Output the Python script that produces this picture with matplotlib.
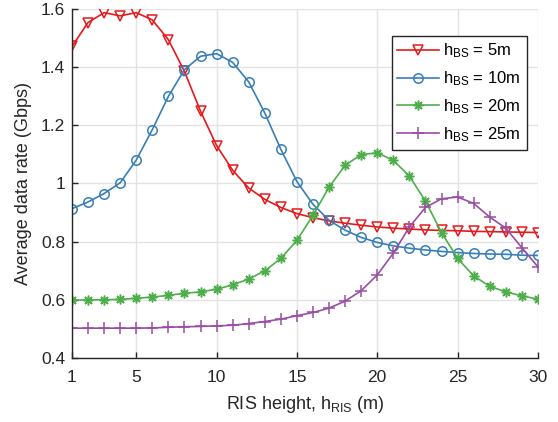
import numpy as np
import matplotlib
matplotlib.use("Agg")
import matplotlib.pyplot as plt

plt.rcParams['font.family'] = ['Liberation Sans', 'DejaVu Sans']
plt.rcParams['mathtext.fontset'] = 'custom'
plt.rcParams['mathtext.rm'] = 'Liberation Sans'
plt.rcParams['mathtext.default'] = 'regular'

# RIS heights (m)
h_ris = list(range(1, 31))

# average data rate (Gbps) per BS height
rate_bs5 = [1.471, 1.553, 1.587, 1.576, 1.587, 1.562, 1.494, 1.385, 1.248, 1.130,
            1.045, 0.984, 0.945, 0.917, 0.896, 0.882, 0.871, 0.863, 0.856, 0.850,
            0.846, 0.843, 0.840, 0.838, 0.837, 0.835, 0.834, 0.833, 0.832, 0.831]
rate_bs10 = [0.913, 0.936, 0.965, 1.002, 1.080, 1.185, 1.299, 1.391, 1.437, 1.446,
             1.416, 1.349, 1.242, 1.117, 1.006, 0.928, 0.873, 0.839, 0.814, 0.797,
             0.785, 0.777, 0.771, 0.766, 0.762, 0.759, 0.757, 0.756, 0.753, 0.752]
rate_bs20 = [0.599, 0.599, 0.600, 0.601, 0.605, 0.609, 0.615, 0.622, 0.627, 0.636,
             0.651, 0.671, 0.699, 0.742, 0.804, 0.890, 0.987, 1.062, 1.099, 1.105,
             1.079, 1.025, 0.939, 0.831, 0.742, 0.682, 0.646, 0.627, 0.613, 0.602]
rate_bs25 = [0.502, 0.502, 0.502, 0.502, 0.502, 0.503, 0.505, 0.507, 0.508, 0.510,
             0.512, 0.518, 0.525, 0.533, 0.545, 0.556, 0.571, 0.595, 0.631, 0.685,
             0.760, 0.850, 0.917, 0.947, 0.953, 0.931, 0.884, 0.846, 0.779, 0.713]

labels = ['h$_{BS}$ = 5m', 'h$_{BS}$ = 10m', 'h$_{BS}$ = 20m', 'h$_{BS}$ = 25m']
xticks = [1, 5, 10, 15, 20, 25, 30]
yticks = [0.4, 0.6, 0.8, 1.0, 1.2, 1.4, 1.6]
ytick_labels = ['0.4', '0.6', '0.8', '1', '1.2', '1.4', '1.6']

fig = plt.figure(figsize=(5.58, 4.22), dpi=100)
ax = fig.add_axes([0.129, 0.152, 0.835, 0.827])

dark = '#262626'
ax.plot(h_ris, rate_bs5, color='#e41a1c', lw=1.2, marker='v', ms=7,
        mfc='none', mew=1.1, label=labels[0])
ax.plot(h_ris, rate_bs10, color='#377eb8', lw=1.2, marker='o', ms=6.8,
        mfc='none', mew=1.1, label=labels[1])
ax.plot(h_ris, rate_bs20, color='#4daf4a', lw=1.2, marker=(8, 2, 0), ms=7,
        mew=1.1, label=labels[2])
ax.plot(h_ris, rate_bs25, color='#984ea3', lw=1.2, marker='+', ms=8.5,
        mew=1.1, label=labels[3])

ax.set_xlim(1, 30)
ax.set_ylim(0.4, 1.6)
ax.set_xticks(xticks)
ax.set_yticks(yticks)
ax.set_yticklabels(ytick_labels)
ax.grid(True, color='#e3e3e3', lw=1)
ax.set_axisbelow(True)

for s in ['top', 'right']:
    ax.spines[s].set_visible(False)
for s in ['left', 'bottom']:
    ax.spines[s].set_color(dark)
    ax.spines[s].set_linewidth(1)
ax.tick_params(direction='in', length=4, colors=dark, labelsize=12.5, width=1)
ax.tick_params(axis='x', pad=9)
ax.tick_params(axis='y', pad=5)

ax.set_xlabel('RIS height, h$_{RIS}$ (m)', fontsize=13, color=dark, labelpad=6)
ax.set_ylabel('Average data rate (Gbps)', fontsize=13, color=dark, labelpad=6)

leg = ax.legend(loc='upper right', bbox_to_anchor=(0.976, 0.923), borderaxespad=0,
                fontsize=12, numpoints=1, handlelength=2.5, handletextpad=0.25,
                fancybox=False, framealpha=1, edgecolor=dark, labelspacing=0.55,
                borderpad=0.35)
leg.get_frame().set_linewidth(1)

fig.savefig('out.png', dpi=100)
